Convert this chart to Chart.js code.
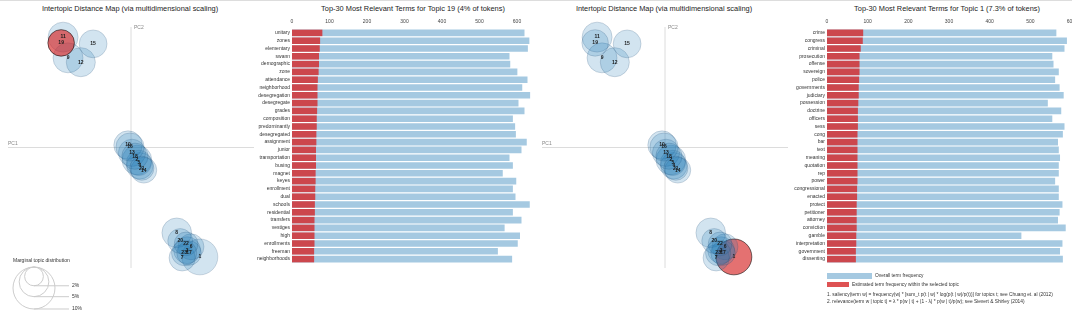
<!DOCTYPE html>
<html>
<head>
<meta charset="utf-8">
<script src="https://cdn.jsdelivr.net/npm/chart.js@4.4.0/dist/chart.umd.min.js"></script>
<style>
body { margin:0; width:1072px; height:314px; overflow:hidden; background:#fff; position:relative;
       font-family:"Liberation Sans", Arial, sans-serif; color:#222; }
.topline { position:absolute; left:0; top:0; width:1072px; height:1px; background:#ddd; }
.box { position:absolute; top:0; height:314px; }
.title { position:absolute; top:4px; width:260px; text-align:center; font-size:7.4px; white-space:nowrap; }
.leg { position:absolute; font-size:4.8px; white-space:nowrap; color:#333; }
.sw { position:absolute; }
</style>
</head>
<body>
<div class="topline"></div>

<div class="title" style="left:0px">Intertopic Distance Map (via multidimensional scaling)</div>
<div class="title" style="left:283px">Top-30 Most Relevant Terms for Topic 19 (4% of tokens)</div>
<div class="title" style="left:534px">Intertopic Distance Map (via multidimensional scaling)</div>
<div class="title" style="left:817px">Top-30 Most Relevant Terms for Topic 1 (7.3% of tokens)</div>

<div class="box" style="left:0px;width:270px"><canvas id="mds1"></canvas></div>
<div class="box" style="left:240px;width:300px"><canvas id="bars1"></canvas></div>
<div class="box" style="left:534px;width:270px"><canvas id="mds2"></canvas></div>
<div class="box" style="left:775px;width:310px"><canvas id="bars2"></canvas></div>

<!-- legend + notes under the second bar chart -->
<div class="sw" style="left:827px;top:273px;width:45px;height:6px;background:rgb(165,201,225)"></div>
<div class="leg" style="left:875px;top:273px">Overall term frequency</div>
<div class="sw" style="left:827px;top:282px;width:22px;height:5px;background:rgba(214,39,40,0.8)"></div>
<div class="leg" style="left:852px;top:282px">Estimated term frequency within the selected topic</div>
<div class="leg" style="left:827px;top:292px">1. saliency(term w) = frequency(w) * [sum_t p(t | w) * log(p(t | w)/p(t))] for topics t; see Chuang et. al (2012)</div>
<div class="leg" style="left:827px;top:299px">2. relevance(term w | topic t) = &lambda; * p(w | t) + (1 - &lambda;) * p(w | t)/p(w); see Sievert &amp; Shirley (2014)</div>

<script>
// topics on the intertopic distance map (PC1, PC2, % of tokens)
var topicIds = [1, 2, 3, 4, 5, 6, 7, 8, 9, 10, 11, 12, 13, 14, 15, 16, 17, 18, 19, 20, 21, 22, 23];
var topicPC1 = [0.140, 0.012, 0.114, 0.018, 0.016, 0.122, 0.104, 0.093, -0.128, -0.006, -0.138, -0.102,
                0.002, 0.026, -0.077, -0.002, 0.118, 0.008, -0.142, 0.100, 0.022, 0.112, 0.108];
var topicPC2 = [-0.227, -0.026, -0.213, -0.038, -0.032, -0.206, -0.229, -0.177, 0.186, 0.005, 0.229, 0.177,
                -0.011, -0.047, 0.215, 0.001, -0.219, -0.018, 0.217, -0.194, -0.043, -0.200, -0.219];
var topicPct = [7.3, 5.0, 4.1, 4.0, 3.6, 3.8, 3.9, 5.0, 5.1, 4.6, 5.1, 4.8,
                4.2, 3.8, 4.4, 4.5, 3.4, 3.9, 4.0, 3.5, 3.3, 3.2, 3.6];
var legendPct = [2, 5, 10];

// topic 19 terms
var terms19 = ['unitary', 'zones', 'elementary', 'swann', 'demographic', 'zone', 'attendance', 'neighborhood',
  'desegregation', 'desegregate', 'grades', 'composition', 'predominantly', 'desegregated', 'assignment', 'junior',
  'transportation', 'busing', 'magnet', 'keyes', 'enrollment', 'dual', 'schools', 'residential', 'transfers',
  'vestiges', 'high', 'enrollments', 'freeman', 'neighborhoods'];
var total19 = [620, 633, 629, 580, 582, 601, 628, 614, 635, 604, 620, 589, 595, 597, 626, 612,
  580, 589, 562, 598, 589, 596, 634, 589, 612, 567, 608, 602, 549, 587];
var inTopic19 = [81, 75, 74, 72, 72, 71, 69, 68, 68, 68, 67, 66, 66, 65, 65, 64,
  64, 64, 63, 63, 62, 62, 61, 61, 60, 60, 60, 60, 59, 59];

// topic 1 terms
var terms1 = ['crime', 'congress', 'criminal', 'prosecution', 'offense', 'sovereign', 'police', 'governments',
  'judiciary', 'possession', 'doctrine', 'officers', 'sess', 'cong', 'bar', 'text', 'meaning', 'quotation', 'rep',
  'power', 'congressional', 'enacted', 'protect', 'petitioner', 'attorney', 'conviction', 'gamble',
  'interpretation', 'government', 'dissenting'];
var total1 = [564, 590, 584, 554, 557, 570, 561, 572, 582, 543, 576, 554, 584, 580, 568, 570,
  573, 570, 570, 561, 570, 570, 579, 572, 568, 587, 478, 579, 573, 580];
var inTopic1 = [89, 88, 83, 80, 80, 80, 79, 78, 78, 77, 76, 76, 76, 75, 75, 75,
  75, 75, 75, 75, 74, 74, 73, 73, 73, 73, 72, 72, 71, 71];

var FONT = '"Liberation Sans", Arial, sans-serif';
var rScale = 6.64; // px radius per sqrt(percent)

var mdsDecor = {
  id: 'mdsDecor',
  beforeDatasetsDraw: function (chart) {
    var ctx = chart.ctx, a = chart.chartArea;
    var x0 = chart.scales.x.getPixelForValue(0), y0 = chart.scales.y.getPixelForValue(0);
    ctx.save();
    ctx.strokeStyle = '#dcdcdc';
    ctx.lineWidth = 1;
    ctx.beginPath();
    ctx.moveTo(x0, a.top); ctx.lineTo(x0, a.bottom);
    ctx.moveTo(a.left, y0); ctx.lineTo(a.right, y0);
    ctx.stroke();
    ctx.fillStyle = '#888';
    ctx.font = '5px ' + FONT;
    ctx.textBaseline = 'middle';
    ctx.fillText('PC2', x0 + 3, a.top + 1);
    ctx.fillText('PC1', a.left, y0 - 4);

    if (chart.options.plugins.mdsDecor.legend) {
      ctx.fillStyle = '#333';
      ctx.fillText('Marginal topic distribution', 13, 261);
      var cx = 34, top = 267;
      legendPct.forEach(function (p) {
        var r = rScale * Math.sqrt(p);
        ctx.strokeStyle = '#ccc';
        ctx.beginPath();
        ctx.arc(cx, top + r, r, 0, Math.PI * 2);
        ctx.stroke();
        ctx.beginPath();
        ctx.moveTo(cx, top + 2 * r); ctx.lineTo(cx + 35, top + 2 * r);
        ctx.stroke();
        ctx.fillStyle = '#333';
        ctx.fillText(p + '%', cx + 38, top + 2 * r);
      });
    }
    ctx.restore();
  },
  afterDatasetsDraw: function (chart) {
    var ctx = chart.ctx;
    var meta = chart.getDatasetMeta(0);
    ctx.save();
    ctx.font = 'bold 5px ' + FONT;
    ctx.fillStyle = '#1a1a1a';
    ctx.textAlign = 'center';
    ctx.textBaseline = 'middle';
    meta.data.forEach(function (el, i) {
      ctx.fillText(String(topicIds[i]), el.x, el.y);
    });
    ctx.restore();
  }
};

function mdsChart(id, selected, showLegend) {
  var pts = topicIds.map(function (t, i) {
    return { x: topicPC1[i], y: topicPC2[i], r: rScale * Math.sqrt(topicPct[i]) };
  });
  return new Chart(document.getElementById(id), {
    type: 'bubble',
    data: {
      datasets: [{
        data: pts,
        clip: false,
        backgroundColor: function (c) {
          return topicIds[c.dataIndex] === selected ? 'rgba(214,39,40,0.66)' : 'rgba(31,119,180,0.2)';
        },
        borderColor: function (c) {
          return topicIds[c.dataIndex] === selected ? 'rgba(0,0,0,0.55)' : 'rgba(20,60,100,0.18)';
        },
        borderWidth: 1
      }]
    },
    options: {
      responsive: true,
      maintainAspectRatio: false,
      animation: false,
      events: [],
      layout: { autoPadding: false, padding: { left: 8, top: 27, right: 16, bottom: 46 } },
      scales: {
        x: { type: 'linear', min: -0.25, max: 0.25, display: false },
        y: { type: 'linear', min: -0.25, max: 0.25, display: false }
      },
      plugins: { legend: { display: false }, tooltip: { enabled: false }, mdsDecor: { legend: showLegend } }
    },
    plugins: [mdsDecor]
  });
}

function barChart(id, terms, totals, inTopic, xmax, rightPad) {
  return new Chart(document.getElementById(id), {
    type: 'bar',
    data: {
      labels: terms,
      datasets: [
        { data: inTopic, backgroundColor: 'rgba(214,39,40,0.8)' },
        { data: totals, backgroundColor: 'rgb(165,201,225)' }
      ]
    },
    options: {
      indexAxis: 'y',
      responsive: true,
      maintainAspectRatio: false,
      animation: false,
      events: [],
      datasets: { bar: { grouped: false, categoryPercentage: 1, barPercentage: 0.84 } },
      layout: { padding: { left: 0, top: 0, right: rightPad, bottom: 51 } },
      scales: {
        x: {
          position: 'top', min: 0, max: xmax,
          grid: { display: false, drawTicks: false },
          border: { display: false },
          ticks: { stepSize: 100, font: { size: 5, family: FONT }, color: '#444', padding: 4, maxRotation: 0 },
          afterBuildTicks: function (s) {
            s.ticks = s.ticks.filter(function (t) { return t.value % 100 === 0; });
          },
          afterFit: function (s) { s.height = 29; }
        },
        y: {
          grid: { display: false, drawTicks: false },
          border: { display: false },
          ticks: { autoSkip: false, font: { size: 5, family: FONT }, color: '#333', padding: 2 },
          afterFit: function (s) { s.width = 52; }
        }
      },
      plugins: { legend: { display: false }, tooltip: { enabled: false } }
    }
  });
}

mdsChart('mds1', 19, true);
barChart('bars1', terms19, total19, inTopic19, 640, 8);
mdsChart('mds2', 1, false);
barChart('bars2', terms1, total1, inTopic1, 600, 14);
</script>
</body>
</html>
